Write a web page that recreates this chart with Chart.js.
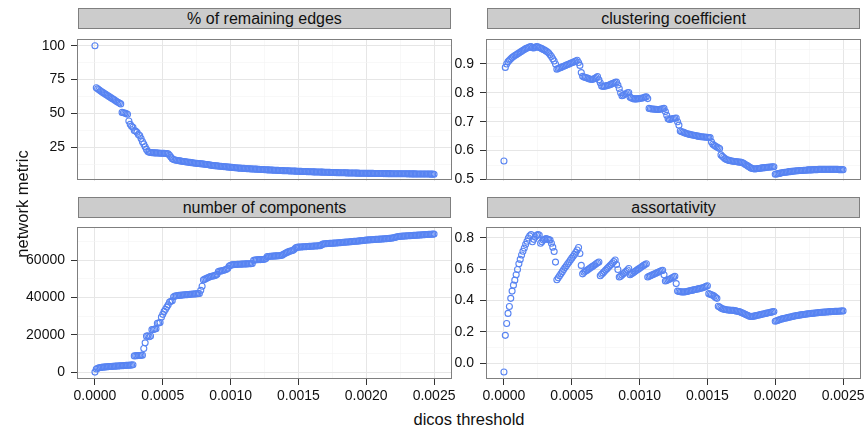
<!DOCTYPE html>
<html lang="en">
<head>
  <meta charset="UTF-8" />
  <title>Network metrics vs dicos threshold</title>
  <script src="https://cdn.jsdelivr.net/npm/chart.js"></script>
  <style>
    html, body { margin: 0; padding: 0; background: #fff; }
    body { width: 868px; height: 427px; position: relative; overflow: hidden;
           font-family: "Liberation Sans", Arial, sans-serif; color: #111; }
    canvas { position: absolute; }
    .strip { position: absolute; box-sizing: border-box; height: 21px; width: 373px;
             background: #cccccc; border: 1px solid #7f7f7f; text-align: center;
             font-size: 16px; line-height: 19px; color: #111; }
    .title { position: absolute; font-size: 16.5px; line-height: 20px; text-align: center; color: #111; }
  </style>
</head>
<body>
  <div class="strip" style="left:78px; top:8px;">% of remaining edges</div>
  <div class="strip" style="left:487px; top:8px;">clustering coefficient</div>
  <div class="strip" style="left:78px; top:197px;">number of components</div>
  <div class="strip" style="left:487px; top:197px;">assortativity</div>

  <canvas id="c1"></canvas>
  <canvas id="c2"></canvas>
  <canvas id="c3"></canvas>
  <canvas id="c4"></canvas>

  <div class="title" style="left:269px; top:409px; width:400px;">dicos threshold</div>
  <div class="title" style="left:-128px; top:194px; width:300px; transform:rotate(-90deg);">network metric</div>

  <script>
    // thresholds (x) shared by every panel
    const thresholds = [
      0,1e-5,2e-5,3e-5,4e-5,5e-5,6e-5,7e-5,8e-5,9e-5,
      10e-5,11e-5,12e-5,13e-5,14e-5,15e-5,16e-5,17e-5,18e-5,19e-5,
      20e-5,21e-5,22e-5,23e-5,24e-5,25e-5,26e-5,27e-5,28e-5,29e-5,
      30e-5,31e-5,32e-5,33e-5,34e-5,35e-5,36e-5,37e-5,38e-5,39e-5,
      40e-5,41e-5,42e-5,43e-5,44e-5,45e-5,46e-5,47e-5,48e-5,49e-5,
      50e-5,51e-5,52e-5,53e-5,54e-5,55e-5,56e-5,57e-5,58e-5,59e-5,
      60e-5,61e-5,62e-5,63e-5,64e-5,65e-5,66e-5,67e-5,68e-5,69e-5,
      70e-5,71e-5,72e-5,73e-5,74e-5,75e-5,76e-5,77e-5,78e-5,79e-5,
      80e-5,81e-5,82e-5,83e-5,84e-5,85e-5,86e-5,87e-5,88e-5,89e-5,
      90e-5,91e-5,92e-5,93e-5,94e-5,95e-5,96e-5,97e-5,98e-5,99e-5,
      100e-5,101e-5,102e-5,103e-5,104e-5,105e-5,106e-5,107e-5,108e-5,109e-5,
      110e-5,111e-5,112e-5,113e-5,114e-5,115e-5,116e-5,117e-5,118e-5,119e-5,
      120e-5,121e-5,122e-5,123e-5,124e-5,125e-5,126e-5,127e-5,128e-5,129e-5,
      130e-5,131e-5,132e-5,133e-5,134e-5,135e-5,136e-5,137e-5,138e-5,139e-5,
      140e-5,141e-5,142e-5,143e-5,144e-5,145e-5,146e-5,147e-5,148e-5,149e-5,
      150e-5,151e-5,152e-5,153e-5,154e-5,155e-5,156e-5,157e-5,158e-5,159e-5,
      160e-5,161e-5,162e-5,163e-5,164e-5,165e-5,166e-5,167e-5,168e-5,169e-5,
      170e-5,171e-5,172e-5,173e-5,174e-5,175e-5,176e-5,177e-5,178e-5,179e-5,
      180e-5,181e-5,182e-5,183e-5,184e-5,185e-5,186e-5,187e-5,188e-5,189e-5,
      190e-5,191e-5,192e-5,193e-5,194e-5,195e-5,196e-5,197e-5,198e-5,199e-5,
      200e-5,201e-5,202e-5,203e-5,204e-5,205e-5,206e-5,207e-5,208e-5,209e-5,
      210e-5,211e-5,212e-5,213e-5,214e-5,215e-5,216e-5,217e-5,218e-5,219e-5,
      220e-5,221e-5,222e-5,223e-5,224e-5,225e-5,226e-5,227e-5,228e-5,229e-5,
      230e-5,231e-5,232e-5,233e-5,234e-5,235e-5,236e-5,237e-5,238e-5,239e-5,
      240e-5,241e-5,242e-5,243e-5,244e-5,245e-5,246e-5,247e-5,248e-5,249e-5,
      250e-5
    ];

    const pctEdges = [
      100,
      69,68.2,67.5,66.8,66.1,65.4,64.8,64.1,63.5,62.8,62.1,61.5,60.8,60.3,59.6,58.9,58.3,57.7,57.1,
      50.8,50.6,50.3,50,49.4,
      44.5,42,40.6,39.8,37.5,37,36.2,34.5,33.8,31.5,29.2,27.5,25.4,23.5,
      22,
      21.4,21.2,21.1,21.0,20.9,20.9,20.8,20.8,20.7,20.7,20.6,20.6,20.5,20.4,20.2,
      19.2,17.8,16.6,16.0,15.7,15.5,
      15.3,15.1,15.0,14.8,14.6,14.5,14.3,14.2,14.0,13.9,13.7,13.6,13.5,13.3,13.2,13.1,13.0,12.9,12.8,12.7,
      12.5,12.4,12.3,12.1,11.9,11.7,11.6,11.5,11.4,11.3,11.2,11.1,11.0,10.9,10.8,10.7,10.6,10.5,10.4,10.3,
      10.2,10.1,10.0,9.9,9.8,9.7,9.65,9.6,9.5,9.45,9.4,9.3,9.25,9.2,9.1,9.05,9.0,8.95,8.9,8.85,8.8,8.7,8.65,8.6,8.5,
      8.45,8.4,8.35,8.3,8.25,8.2,8.15,8.1,8.05,8.0,7.95,7.9,7.85,7.8,7.76,7.72,7.68,7.64,7.6,7.56,7.52,7.48,7.44,7.4,7.35,
      7.3,7.26,7.22,7.18,7.14,7.1,7.06,7.02,6.98,6.94,6.9,6.87,6.84,6.81,6.78,6.75,6.72,6.69,6.66,6.63,6.6,6.56,6.52,6.48,6.44,
      6.4,6.37,6.35,6.32,6.3,6.27,6.25,6.22,6.2,6.17,6.15,6.12,6.1,6.07,6.05,6.02,6.0,5.98,5.96,5.94,5.92,5.9,5.88,5.86,5.84,
      5.82,5.8,5.79,5.77,5.76,5.74,5.73,5.71,5.7,5.68,5.67,5.65,5.64,5.62,5.61,5.6,5.59,5.58,5.57,5.56,5.55,5.54,5.53,5.52,5.51,
      5.5,5.49,5.48,5.47,5.46,5.45,5.44,5.42,5.41,5.4,5.39,5.38,5.37,5.36,5.35,5.34,5.32,5.31,5.3,5.29,5.28,5.26,5.24,5.22,5.2
    ];

    const clustering = [
      0.564,
      0.888,
      0.900,0.908,0.913,0.918,0.922,0.926,0.929,0.932,0.935,0.938,0.941,0.944,0.947,0.950,0.953,0.955,0.957,0.959,0.960,
      0.956,0.955,0.958,0.960,0.959,0.957,0.955,0.953,0.950,
      0.948,0.945,0.942,0.938,0.932,0.926,0.918,0.910,0.900,
      0.882,0.884,0.886,0.888,0.890,0.892,0.894,0.896,0.898,0.900,0.902,0.904,0.906,0.908,0.910,0.913,
      0.905,0.895,0.870,
      0.857,0.855,0.853,0.852,0.850,0.848,0.847,0.846,0.848,0.850,0.853,0.856,
      0.845,0.835,0.824,
      0.822,0.823,0.824,0.825,0.826,0.828,0.830,0.832,0.834,0.836,0.837,
      0.827,0.815,0.800,
      0.790,0.792,0.795,0.797,0.800,0.801,
      0.785,0.782,0.780,0.779,0.779,0.779,0.780,0.780,0.781,0.782,0.783,0.785,0.786,
      0.780,0.746,
      0.745,0.744,0.744,0.743,0.743,0.742,0.742,0.743,0.744,0.745,0.746,
      0.735,0.722,0.710,
      0.708,0.709,0.710,0.711,0.712,0.713,
      0.700,0.688,0.668,
      0.665,0.664,0.662,0.660,0.658,0.657,0.656,0.655,0.654,0.653,0.652,0.651,0.650,0.649,0.648,0.648,0.647,0.647,0.646,0.646,0.645,0.645,
      0.630,0.622,0.618,0.615,0.612,0.610,0.607,
      0.585,0.580,0.576,0.572,0.569,
      0.567,0.566,0.565,0.564,0.563,0.562,0.562,0.561,0.560,0.560,0.559,0.558,
      0.555,0.552,0.549,0.546,0.543,0.540,0.538,0.537,0.536,
      0.537,0.538,0.538,0.539,0.540,0.540,0.541,0.541,0.542,0.542,0.543,0.543,0.544,0.544,
      0.518,0.519,0.520,0.521,0.522,0.523,0.524,0.525,0.525,0.526,
      0.527,0.527,0.528,0.528,0.529,0.529,0.530,0.530,0.531,0.531,
      0.531,0.532,0.532,0.532,0.533,0.533,0.533,0.533,0.534,0.534,
      0.534,0.534,0.535,0.535,0.535,0.535,0.535,0.535,0.535,0.535,
      0.535,0.535,0.535,0.535,0.535,0.535,0.535,0.534,0.534,0.534,
      0.534
    ];

    const components = [
      0,
      1700,2100,2300,2450,2550,2650,2750,2800,2900,2950,3000,3050,3100,3150,3200,3250,3300,3350,3400,3450,3500,3550,3600,3650,3700,3750,3850,3950,
      8700,8800,8850,8900,8950,9000,9100,
      12700,15700,19300,19500,19000,19400,22800,22900,23100,23300,26200,26400,26600,29500,31000,32600,33700,34900,36200,37600,38000,38300,40500,40800,
      41000,41100,41200,41300,41350,41400,41500,41550,41600,41700,41750,41800,41900,41950,42000,42100,42150,42200,
      43900,46100,49500,
      49900,50300,50600,50900,51300,51500,51600,51800,52000,52500,54000,54200,54300,54500,54700,55000,55200,55800,
      57000,57400,57600,57700,57750,57800,57850,57900,57950,58000,58000,58050,58100,58100,58150,58200,58200,58300,
      60000,60200,60300,60300,60400,60400,60500,60500,60600,61000,
      62000,62100,62200,62200,62300,62300,62400,62400,62500,62500,62600,62800,63300,63700,
      64100,64400,64700,65000,65200,65400,66000,66800,67000,
      67100,67150,67200,67250,67300,67350,67400,67450,67500,67550,67600,67650,67700,67750,67800,67850,67900,68300,68700,
      68900,68950,69000,69050,69100,69150,69200,69250,69300,69350,69400,69450,69500,69600,69700,69750,
      69800,69850,69900,70000,70050,70100,70200,70250,70300,70400,70450,70500,70600,70650,70750,70900,
      70950,71000,71050,71100,71150,71200,71250,71300,71350,71400,71450,71500,71550,71600,71650,71700,71800,71900,72000,72100,
      72300,72500,72700,72800,72900,72950,73000,73050,73100,73150,73200,73250,73300,73350,73400,73450,73500,73550,73600,73650,
      73700,73750,73800,73850,73900,73950,74000,74050,74080,74100
    ];

    const assortativity = [
      -0.055,0.178,0.254,0.318,0.362,0.414,0.460,0.498,0.530,0.564,0.598,0.634,0.662,0.690,0.714,0.734,0.758,0.778,0.798,0.812,0.820,
      0.775,0.790,0.805,0.815,0.820,0.818,0.765,0.775,0.785,0.790,0.795,0.792,0.788,0.785,0.765,0.740,0.712,0.645,
      0.532,0.545,0.558,0.571,0.584,0.597,0.610,0.622,0.634,0.646,0.658,0.670,0.682,0.694,0.708,0.722,0.738,
      0.700,0.624,0.570,
      0.580,0.586,0.592,0.598,0.604,0.610,0.616,0.622,0.628,0.634,0.640,0.646,
      0.558,0.567,0.576,0.585,0.594,0.603,0.612,0.621,0.630,0.639,0.648,0.658,
      0.630,0.598,0.550,
      0.555,0.563,0.571,0.579,0.587,0.595,0.604,
      0.564,0.570,0.576,0.582,0.588,0.594,0.600,0.606,0.612,0.618,0.624,0.629,0.634,
      0.550,0.554,0.558,0.562,0.566,0.570,0.574,0.578,0.582,0.586,0.590,0.592,
      0.564,0.524,
      0.528,0.532,0.536,0.540,0.545,0.550,0.554,
      0.508,0.460,
      0.458,0.456,0.455,0.454,0.455,0.456,0.458,0.460,0.462,0.464,0.466,0.468,0.470,0.472,0.474,0.476,0.478,0.480,0.483,0.486,0.490,0.494,
      0.444,0.440,0.437,0.434,0.428,0.420,0.414,
      0.364,0.358,0.352,0.348,0.345,0.343,0.341,0.340,0.339,0.338,0.338,0.337,0.336,0.334,0.332,0.330,0.328,0.324,0.320,0.316,0.312,0.308,0.304,0.300,
      0.298,0.299,0.300,0.302,0.304,0.306,0.308,0.310,0.312,0.314,0.316,0.318,0.320,0.322,0.324,0.326,0.328,0.330,
      0.268,0.271,0.274,0.277,0.280,0.283,0.285,0.287,0.289,0.291,
      0.293,0.295,0.297,0.299,0.301,0.303,0.304,0.306,0.307,0.309,
      0.310,0.311,0.313,0.314,0.315,0.316,0.317,0.318,0.319,0.320,
      0.321,0.322,0.323,0.324,0.325,0.325,0.326,0.327,0.327,0.328,
      0.329,0.329,0.330,0.330,0.331,0.331,0.332,0.332,0.333,0.333,
      0.334
    ];

    // axis breaks
    const xBreaks = [0, 0.0005, 0.0010, 0.0015, 0.0020, 0.0025];
    const xMinor  = [0.00025, 0.00075, 0.00125, 0.00175, 0.00225];
    const pctBreaks = [25, 50, 75, 100],            pctMinor = [12.5, 37.5, 62.5, 87.5];
    const ccBreaks  = [0.5, 0.6, 0.7, 0.8, 0.9],    ccMinor  = [0.55, 0.65, 0.75, 0.85, 0.95];
    const ncBreaks  = [0, 20000, 40000, 60000],     ncMinor  = [10000, 30000, 50000, 70000];
    const asBreaks  = [0, 0.2, 0.4, 0.6, 0.8],      asMinor  = [0.1, 0.3, 0.5, 0.7];

    const POINT = 'rgb(88,132,242)';
    Chart.defaults.font.family = '"Liberation Sans", Arial, sans-serif';
    Chart.defaults.font.size = 14;
    Chart.defaults.color = '#111';

    const panelBorder = {
      id: 'panelBorder',
      afterDraw(chart) {
        const a = chart.chartArea, ctx = chart.ctx;
        ctx.save();
        ctx.strokeStyle = '#7f7f7f';
        ctx.lineWidth = 1;
        ctx.strokeRect(Math.round(a.left) - 0.5, Math.round(a.top) + 0.5,
                       Math.round(a.right - a.left) + 1, Math.round(a.bottom - a.top) - 1);
        ctx.restore();
      }
    };

    function makeTicks(major, minor) {
      return major.map(v => ({ value: v }))
        .concat(minor.map(v => ({ value: v, minor: true })))
        .sort((a, b) => a.value - b.value);
    }

    const gridOpts = (tickLen) => ({
      color: c => (c.tick && c.tick.minor) ? '#f4f4f4' : '#e6e6e6',
      lineWidth: c => (c.tick && c.tick.minor) ? 0.6 : 1,
      tickColor: c => (c.tick && c.tick.minor) ? 'rgba(0,0,0,0)' : '#333',
      tickWidth: 1,
      tickLength: tickLen,
      drawTicks: tickLen > 0
    });

    const panels = [
      { id: 'c1', values: pctEdges,      yMin: 0.46,  yMax: 104.7, br: pctBreaks, mi: pctMinor, fmt: v => String(v),   left: 78,  top: 30,  h: 160, bottom: false },
      { id: 'c2', values: clustering,    yMin: 0.496, yMax: 0.985, br: ccBreaks,  mi: ccMinor,  fmt: v => v.toFixed(1), left: 487, top: 30,  h: 160, bottom: false },
      { id: 'c3', values: components,    yMin: -3700, yMax: 77700, br: ncBreaks,  mi: ncMinor,  fmt: v => String(v),   left: 78,  top: 218, h: 161, bottom: true },
      { id: 'c4', values: assortativity, yMin: -0.100, yMax: 0.866, br: asBreaks, mi: asMinor,  fmt: v => v.toFixed(1), left: 487, top: 218, h: 161, bottom: true }
    ];

    const Y_W = 78, X_H = 30, PAD = 5, PANEL_W = 373, RPAD = 8;

    panels.forEach(p => {
      const cv = document.getElementById(p.id);
      const w = Y_W + PANEL_W + RPAD;
      const h = PAD + p.h + (p.bottom ? X_H : PAD);
      cv.width = w; cv.height = h;
      cv.style.left = (p.left - Y_W) + 'px';
      cv.style.top = (p.top - PAD) + 'px';

      const n = Math.min(thresholds.length, p.values.length);
      const pts = [];
      for (let i = 0; i < n; i++) pts.push({ x: thresholds[i], y: p.values[i] });

      new Chart(cv, {
        type: 'scatter',
        data: { datasets: [{
          data: pts,
          pointStyle: 'circle',
          pointRadius: 3,
          pointBorderWidth: 1.1,
          pointBackgroundColor: 'rgba(0,0,0,0)',
          pointBorderColor: POINT
        }]},
        options: {
          responsive: false,
          animation: false,
          events: [],
          layout: { padding: { top: PAD, right: RPAD, bottom: p.bottom ? 0 : PAD, left: 0 } },
          plugins: { legend: { display: false }, tooltip: { enabled: false } },
          scales: {
            x: {
              type: 'linear',
              min: -0.000125, max: 0.002625,
              border: { display: false },
              grid: gridOpts(p.bottom ? 6 : 0),
              afterBuildTicks: s => { s.ticks = makeTicks(xBreaks, xMinor); },
              afterFit: s => { s.height = p.bottom ? X_H : 0; },
              ticks: {
                display: p.bottom,
                autoSkip: false, maxRotation: 0, padding: 3,
                callback: (v, i, t) => t[i].minor ? '' : v.toFixed(4)
              }
            },
            y: {
              type: 'linear',
              min: p.yMin, max: p.yMax,
              border: { display: false },
              grid: gridOpts(7),
              afterBuildTicks: s => { s.ticks = makeTicks(p.br, p.mi); },
              afterFit: s => { s.width = Y_W; },
              ticks: {
                autoSkip: false, padding: 6,
                callback: (v, i, t) => t[i].minor ? '' : p.fmt(v)
              }
            }
          }
        },
        plugins: [panelBorder]
      });
    });
  </script>
</body>
</html>
